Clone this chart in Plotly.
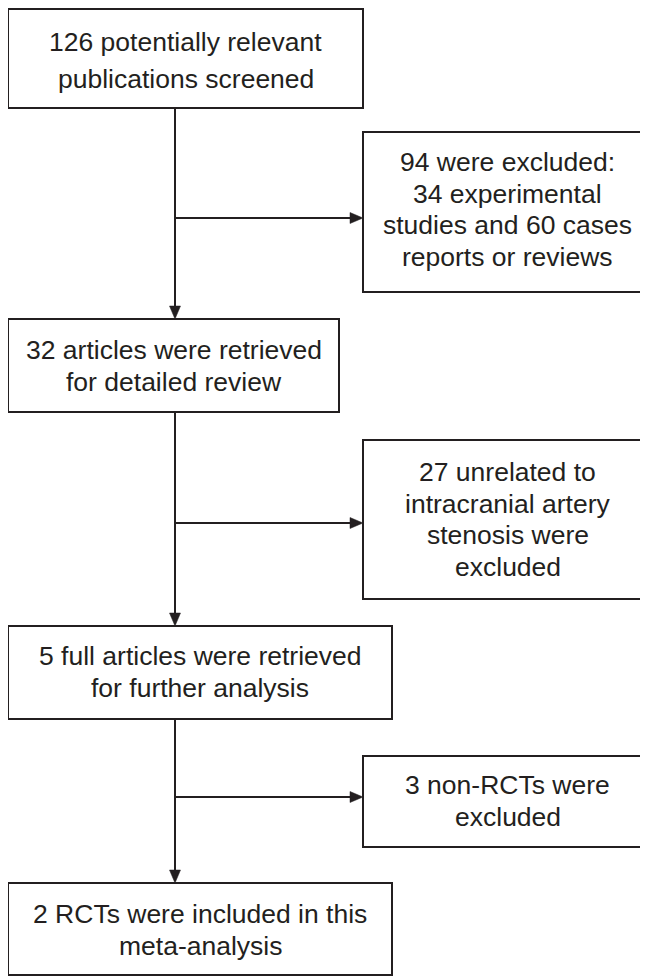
import plotly.graph_objects as go

# ---- content ----
main_steps = [
    ["126 potentially relevant", "publications screened"],
    ["32 articles were retrieved", "for detailed review"],
    ["5 full articles were retrieved", "for further analysis"],
    ["2 RCTs were included in this", "meta-analysis"],
]
exclusions = [
    ["94 were excluded:", "34 experimental", "studies and 60 cases", "reports or reviews"],
    ["27 unrelated to", "intracranial artery", "stenosis were", "excluded"],
    ["3 non-RCTs were", "excluded"],
]

# ---- geometry (window pixels, y downward) ----
W, H = 648, 976
OFF = 8  # page body margin around the plot div
main_boxes = [(8, 9, 363, 108), (8, 319, 339, 412), (8, 626, 392, 719), (8, 883, 392, 975)]
main_line_y = [[42, 79], [350, 382], [656, 688], [914, 946]]
excl_boxes = [(363, 132, 652, 292), (363, 440, 652, 599), (363, 756, 652, 847)]
excl_line_y = [[162, 193.5, 225, 256.5], [472, 503.5, 535, 566.5], [785, 817]]
branch_y = [218, 523, 797]
trunk_x = 175

INK = "#231f20"
LW = 2
FONT = dict(family="Liberation Sans, Arial, sans-serif", size=26.5, color=INK)
AH_LEN, AH_HALF = 13, 5.5

shapes = []
annotations = []

def add_box(b):
    x0, y0, x1, y1 = b
    shapes.append(dict(type="rect", xref="x", yref="y", x0=x0, y0=y0, x1=x1, y1=y1,
                       line=dict(color=INK, width=LW), fillcolor="rgba(0,0,0,0)"))

def add_text(lines, ys, cx):
    for t, y in zip(lines, ys):
        annotations.append(dict(x=cx, y=y, xref="x", yref="y", text=t, showarrow=False,
                                font=FONT, xanchor="center", yanchor="middle"))

def add_line(x0, y0, x1, y1):
    shapes.append(dict(type="line", xref="x", yref="y", x0=x0, y0=y0, x1=x1, y1=y1,
                       line=dict(color=INK, width=LW)))

def arrow_down(x, y_tip):
    p = f"M{x},{y_tip} L{x-AH_HALF},{y_tip-AH_LEN} L{x+AH_HALF},{y_tip-AH_LEN} Z"
    shapes.append(dict(type="path", xref="x", yref="y", path=p, fillcolor=INK,
                       line=dict(color=INK, width=0.5)))

def arrow_right(x_tip, y):
    p = f"M{x_tip},{y} L{x_tip-AH_LEN},{y-AH_HALF} L{x_tip-AH_LEN},{y+AH_HALF} Z"
    shapes.append(dict(type="path", xref="x", yref="y", path=p, fillcolor=INK,
                       line=dict(color=INK, width=0.5)))

for b, lines, ys in zip(main_boxes, main_steps, main_line_y):
    add_box(b)
    add_text(lines, ys, (b[0] + b[2]) / 2)

for b, lines, ys in zip(excl_boxes, exclusions, excl_line_y):
    add_box(b)
    add_text(lines, ys, (b[0] + b[2]) / 2)

for i in range(len(main_boxes) - 1):
    top = main_boxes[i][3]
    nxt = main_boxes[i + 1][1]
    add_line(trunk_x, top, trunk_x, nxt - AH_LEN + 1)
    arrow_down(trunk_x, nxt)
    by = branch_y[i]
    ex = excl_boxes[i][0]
    add_line(trunk_x, by, ex - AH_LEN + 1, by)
    arrow_right(ex, by)

fig = go.Figure()
fig.update_layout(
    width=W, height=H, margin=dict(l=0, r=0, t=0, b=0),
    paper_bgcolor="white", plot_bgcolor="white",
    xaxis=dict(range=[OFF, W + OFF], visible=False, fixedrange=True),
    yaxis=dict(range=[H + OFF, OFF], visible=False, fixedrange=True),
    shapes=shapes, annotations=annotations, showlegend=False,
)
fig.write_html("out.html")
